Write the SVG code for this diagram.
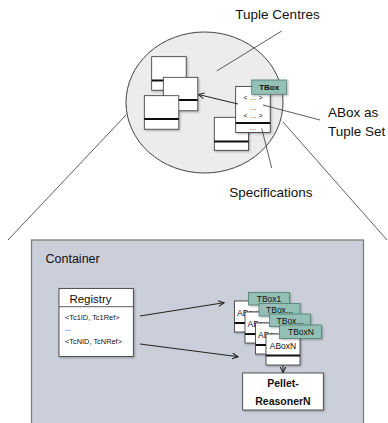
<svg xmlns="http://www.w3.org/2000/svg" width="388" height="423" viewBox="0 0 388 423">
<style>
.t{font-family:"Liberation Sans",Arial,sans-serif;fill:#111}
.box{fill:#fff;stroke:#333;stroke-width:0.8}
.div{stroke:#111;stroke-width:1.8}
.tb{fill:#93bfb5;stroke:#4f7f76;stroke-width:0.8}
.ln{stroke:#333;stroke-width:0.8;fill:none}
.arr{stroke:#222;stroke-width:1;fill:none;marker-end:url(#ah)}
</style>
<defs>
<marker id="ah" viewBox="0 0 10 10" refX="9" refY="5" markerWidth="7" markerHeight="7" orient="auto" markerUnits="userSpaceOnUse">
<path d="M1,1 L9,5 L1,9" fill="none" stroke="#222" stroke-width="1.5"/>
</marker>
<filter id="sh" x="-20%" y="-20%" width="140%" height="140%">
<feDropShadow dx="1" dy="1" stdDeviation="0.8" flood-color="#000" flood-opacity="0.3"/>
</filter>
</defs>

<g id="container">
<rect x="31.5" y="240" width="332" height="190" fill="#cbcfd9" stroke="#7f7f7f" stroke-width="1.3"/>
<text class="t" x="45.5" y="263" font-size="12.5">Container</text>
</g>

<g id="connectors">
<line class="ln" x1="126" y1="115" x2="8" y2="240"/>
<line class="ln" x1="283" y1="122" x2="387" y2="240"/>
</g>

<g id="tuple-centres">
<ellipse cx="204.5" cy="102.5" rx="78.5" ry="70.5" fill="#ececec" stroke="#444" stroke-width="1"/>
<g filter="url(#sh)">
<rect class="box" x="151.7" y="56.7" width="34.5" height="33.5"/>
<line class="div" x1="151.7" y1="80.5" x2="186.2" y2="80.5"/>
<rect class="box" x="163.3" y="77.3" width="34.5" height="33.5"/>
<line class="div" x1="163.3" y1="100" x2="197.8" y2="100"/>
<rect class="box" x="144.3" y="95.7" width="34.5" height="33.5"/>
<line class="div" x1="144.3" y1="119" x2="178.8" y2="119"/>
<rect class="box" x="214.3" y="117.3" width="34.3" height="33"/>
<line class="div" x1="214.3" y1="141.5" x2="248.6" y2="141.5"/>
</g>
</g>

<g id="abox">
<rect class="box" x="235.7" y="86.5" width="34.5" height="46" filter="url(#sh)"/>
<line class="div" x1="235.7" y1="123" x2="270.2" y2="123"/>
<text class="t" x="253" y="100" font-size="7" text-anchor="middle">&lt; … &gt;</text>
<text class="t" x="253" y="109.5" font-size="7" text-anchor="middle">…</text>
<text class="t" x="253" y="117.5" font-size="7" text-anchor="middle">&lt; … &gt;</text>
<text class="t" x="253" y="130" font-size="7" text-anchor="middle">…</text>
</g>
<g id="tbox">
<rect class="tb" x="251.7" y="80" width="35" height="14.3" filter="url(#sh)"/>
<text class="t" x="269.2" y="90.3" font-size="8" font-weight="bold" text-anchor="middle">TBox</text>
</g>

<g id="connectors-top">
<line class="arr" x1="238" y1="104" x2="198.5" y2="94.5"/>
<line class="ln" x1="281.7" y1="31" x2="216.7" y2="71"/>
<line class="ln" x1="320" y1="120" x2="263" y2="105"/>
<line class="ln" x1="271.7" y1="168" x2="261.7" y2="128.3"/>
</g>

<g id="label-tuple-centres"><text class="t" x="277.5" y="18.5" font-size="13.5" text-anchor="middle">Tuple Centres</text></g>
<g id="label-abox"><text class="t" x="328" y="117.3" font-size="13.5">ABox as</text><text class="t" x="328" y="135.7" font-size="13.5">Tuple Set</text></g>
<g id="label-spec"><text class="t" x="270.8" y="196.7" font-size="13.5" text-anchor="middle">Specifications</text></g>

<g id="registry">
<rect class="box" x="59" y="288.5" width="74.3" height="68" filter="url(#sh)"/>
<line x1="59" y1="306.7" x2="133.3" y2="306.7" stroke="#333" stroke-width="0.8"/>
<text class="t" x="90.5" y="302.5" font-size="11.5" text-anchor="middle">Registry</text>
<text class="t" x="65" y="320" font-size="7.4">&lt;Tc1ID, Tc1Ref&gt;</text>
<text class="t" x="65" y="331" font-size="7.4">...</text>
<text class="t" x="65" y="344" font-size="7.4">&lt;TcNID, TcNRef&gt;</text>
</g>

<g id="stack1">
<rect class="box" x="234.5" y="301" width="34" height="31" filter="url(#sh)"/>
<line class="div" x1="234.5" y1="323" x2="268.5" y2="323"/>
<text class="t" x="237" y="315.5" font-size="8.5">ABox1</text>
<rect class="tb" x="248.5" y="292.5" width="41" height="12.5" filter="url(#sh)"/>
<text class="t" x="269" y="302" font-size="8.5" text-anchor="middle">TBox1</text>
</g>
<g id="stack2">
<rect class="box" x="245" y="312" width="34" height="31" filter="url(#sh)"/>
<line class="div" x1="245" y1="334" x2="279" y2="334"/>
<text class="t" x="247.5" y="326.5" font-size="8.5">ABox...</text>
<rect class="tb" x="259" y="303.5" width="41" height="12.5" filter="url(#sh)"/>
<text class="t" x="279.5" y="313" font-size="8.5" text-anchor="middle">TBox...</text>
</g>
<g id="stack3">
<rect class="box" x="255.5" y="323" width="34" height="31" filter="url(#sh)"/>
<line class="div" x1="255.5" y1="345" x2="289.5" y2="345"/>
<text class="t" x="258" y="337.5" font-size="8.5">ABox...</text>
<rect class="tb" x="269.5" y="314" width="41" height="12.5" filter="url(#sh)"/>
<text class="t" x="290" y="323.5" font-size="8.5" text-anchor="middle">TBox...</text>
</g>
<g id="stackN">
<rect class="box" x="266" y="334" width="34" height="31" filter="url(#sh)"/>
<line class="div" x1="266" y1="355.5" x2="300" y2="355.5"/>
<text class="t" x="283" y="348.5" font-size="8.5" text-anchor="middle">ABoxN</text>
<rect class="tb" x="279.5" y="325" width="42" height="13.5" filter="url(#sh)"/>
<text class="t" x="301" y="335" font-size="8.5" text-anchor="middle">TBoxN</text>
</g>

<g id="pellet">
<rect class="box" x="242.7" y="373" width="80.6" height="37" filter="url(#sh)"/>
<text class="t" x="283" y="387" font-size="10.5" font-weight="bold" text-anchor="middle">Pellet-</text>
<text class="t" x="283" y="404.5" font-size="10.5" font-weight="bold" text-anchor="middle">ReasonerN</text>
</g>

<g id="connectors-container">
<line class="arr" x1="140" y1="316" x2="224" y2="302.7"/>
<line class="arr" x1="140" y1="344" x2="238" y2="356.7"/>
<line class="arr" x1="283" y1="365" x2="283" y2="372.5"/>
</g>
</svg>
